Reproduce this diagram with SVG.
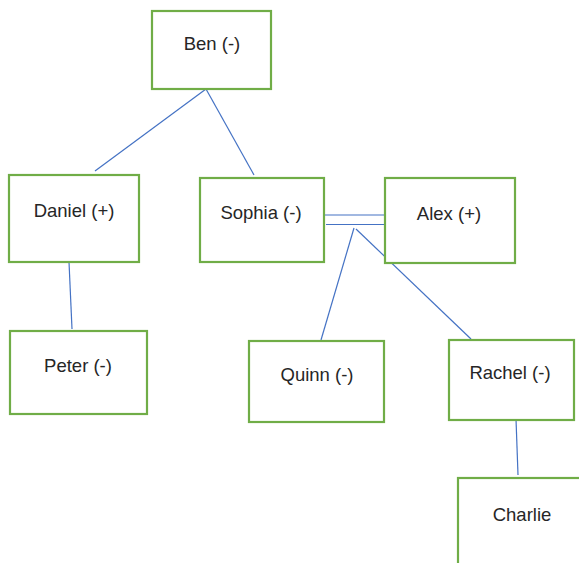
<svg xmlns="http://www.w3.org/2000/svg" width="579" height="563" viewBox="0 0 579 563">
<style>
.box{fill:#fff;stroke:#70AD47;stroke-width:2.2}
.lbl{font-family:"Liberation Sans",Arial,sans-serif;font-size:18.5px;fill:#262626;text-anchor:middle}
.ln{stroke:#4472C4;stroke-width:1.2;fill:none}
</style>
<rect width="579" height="563" fill="#fff"/>
<g id="connectors">
<line class="ln" x1="206" y1="89" x2="95" y2="171"/>
<line class="ln" x1="206" y1="89" x2="254" y2="175"/>
<line class="ln" x1="69" y1="262" x2="72" y2="329"/>
<line class="ln" x1="322" y1="215" x2="385" y2="215"/>
<line class="ln" x1="326" y1="224.5" x2="385" y2="224.5"/>
<line class="ln" x1="354" y1="228" x2="321" y2="340"/>
<line class="ln" x1="356" y1="229" x2="471" y2="339"/>
<line class="ln" x1="516" y1="419" x2="518" y2="475"/>
</g>
<g id="ben"><rect class="box" x="152" y="11" width="119" height="78"/><text class="lbl" x="212" y="50">Ben (-)</text></g>
<g id="daniel"><rect class="box" x="9" y="175" width="130" height="87"/><text class="lbl" x="74" y="217">Daniel (+)</text></g>
<g id="sophia"><rect class="box" x="200" y="178" width="124" height="84"/><text class="lbl" x="261" y="219">Sophia (-)</text></g>
<g id="alex"><rect class="box" x="385" y="178" width="130" height="85"/><text class="lbl" x="449" y="220">Alex (+)</text></g>
<g id="peter"><rect class="box" x="10" y="331" width="137" height="83"/><text class="lbl" x="78" y="372">Peter (-)</text></g>
<g id="quinn"><rect class="box" x="249" y="341" width="135" height="81"/><text class="lbl" x="317" y="381">Quinn (-)</text></g>
<g id="rachel"><rect class="box" x="449" y="340" width="125" height="80"/><text class="lbl" x="510" y="379">Rachel (-)</text></g>
<g id="charlie"><rect class="box" x="458" y="478" width="140" height="100"/><text class="lbl" x="522" y="521">Charlie</text></g>
</svg>
